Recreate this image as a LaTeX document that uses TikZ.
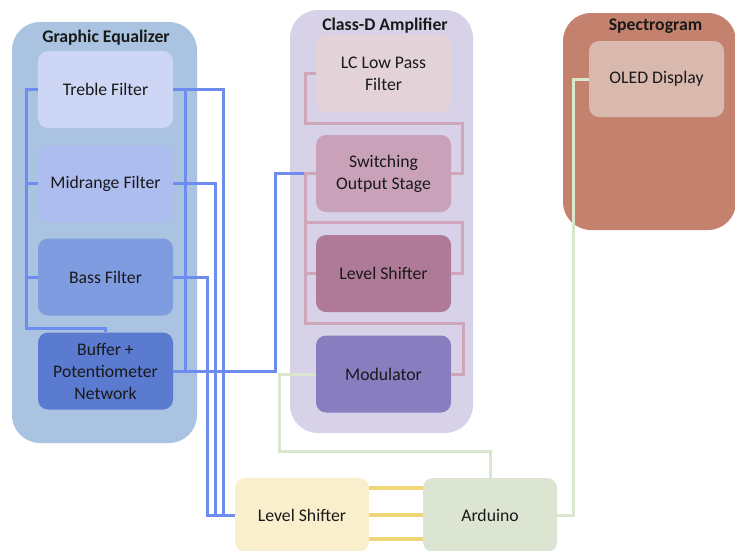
\documentclass[tikz,border=0pt]{standalone}
\usepackage{fontspec}
\setmainfont{Carlito}
\usepackage{xcolor}
\usetikzlibrary{positioning}

\definecolor{eqgroup}{HTML}{A9C3E0}
\definecolor{eqtreble}{HTML}{CDD6F4}
\definecolor{eqmid}{HTML}{ADBDF0}
\definecolor{eqbass}{HTML}{809CE1}
\definecolor{eqbuffer}{HTML}{5A7BD0}
\definecolor{ampgroup}{HTML}{D7D2E7}
\definecolor{amplc}{HTML}{E3D2D8}
\definecolor{ampswitch}{HTML}{C9A2B9}
\definecolor{ampshift}{HTML}{AF7A98}
\definecolor{ampmod}{HTML}{877DBF}
\definecolor{specgroup}{HTML}{C4826E}
\definecolor{specoled}{HTML}{D9B8AD}
\definecolor{shiftfill}{HTML}{FAEFCC}
\definecolor{ardfill}{HTML}{DCE5D2}
\definecolor{buswire}{HTML}{6C8DEF}
\definecolor{ampwire}{HTML}{CFA5BA}
\definecolor{ctrlwire}{HTML}{DAE6CE}
\definecolor{linkwire}{HTML}{F0D67A}

\begin{document}
\begin{tikzpicture}[x=1pt,y=-1pt]
      \tikzstyle{every node}=[font=\fontsize{17.7}{22}\selectfont, text=black!90]
      \tikzstyle{group}=[rounded corners=28pt, inner sep=0pt]
      \tikzstyle{block}=[rounded corners=10pt, minimum width=135pt, minimum height=77pt, align=center, inner sep=0pt]
      \tikzstyle{heading}=[font=\fontsize{17.7}{22}\selectfont\bfseries]
      \tikzstyle{bus}=[line width=3pt, draw=buswire]
      \tikzstyle{chain}=[line width=3pt, draw=ampwire]
      \tikzstyle{ctrl}=[line width=3pt, draw=ctrlwire]
      \tikzstyle{link}=[line width=4pt, draw=linkwire]

      \useasboundingbox (0,0) rectangle (735,550);

      % groups
      \node[group, fill=eqgroup, minimum width=185pt, minimum height=421pt] (EQ) at (104.5,232.5) {};
      \node[group, fill=ampgroup, minimum width=183pt, minimum height=423pt] (Amp) at (381.5,221.5) {};
      \node[group, fill=specgroup, minimum width=173pt, minimum height=217pt] (Spec) at (649.5,121.5) {};
      \node[heading] (EQtitle) at (106,38) {Graphic Equalizer};
      \node[heading] (Amptitle) at (385,26) {Class-D Amplifier};
      \node[heading] (Spectitle) at (655.5,26) {Spectrogram};

      % graphic equalizer
      \node[block, fill=eqtreble] (Treble) at (105.5,89.5) {Treble Filter};
      \node[block, fill=eqmid] (Mid) at (105.5,183.5) {Midrange Filter};
      \node[block, fill=eqbass] (Bass) at (105.5,277) {Bass Filter};
      \node[block, fill=eqbuffer] (Buffer) at (105.5,371) {Buffer +\\Potentiometer\\Network};

      % class-d amplifier
      \node[block, fill=amplc] (LC) at (383.5,73.5) {LC Low Pass\\Filter};
      \node[block, fill=ampswitch] (Switch) at (383.5,173.5) {Switching\\Output Stage};
      \node[block, fill=ampshift] (AmpShift) at (383.5,273.5) {Level Shifter};
      \node[block, fill=ampmod] (Mod) at (383.5,374) {Modulator};

      % spectrogram
      \node[block, fill=specoled, minimum height=76pt] (OLED) at (656.5,79) {OLED Display};

      % bottom row
      \node[block, fill=shiftfill, minimum width=134pt, minimum height=74pt] (Shift) at (302,515) {Level Shifter};
      \node[block, fill=ardfill, minimum width=134pt, minimum height=74pt] (Arduino) at (490,515) {Arduino};

      % equalizer wiring
      \draw[bus] (Treble.west) -| (26,328) -| (Buffer.north);
      \draw[bus] (Mid.west) -- (Mid.west -| 26,0);
      \draw[bus] (Bass.west) -- (Bass.west -| 26,0);
      \draw[bus] (Treble.east) -| (Shift.west -| 223,0) -- (Shift.west);
      \draw[bus] (Mid.east) -| (Shift.west -| 215,0) -- (Shift.west);
      \draw[bus] (Bass.east) -| (Shift.west -| 207,0) -- (Shift.west);
      \draw[bus] (Treble.east -| 185,0) -- (Buffer.east -| 185,0);
      \draw[bus] (Buffer.east) -| (Switch.west -| 275,0) -- (Switch.west);

      % amplifier wiring
      \draw[chain] (Switch.east) -- ++(11,0) |- (305,123) |- (LC.west);
      \draw[chain] (Mod.east) -- ++(12,0) |- (305,323) |- (Switch.west);
      \draw[chain] (AmpShift.west) -- (AmpShift.west -| 305,0);
      \draw[chain] (AmpShift.east) -- ++(11,0) |- (305,222);

      % control wiring
      \draw[ctrl] (Mod.west) -| (279,451) -| (Arduino.north);
      \draw[ctrl] (Arduino.east) -| (OLED.west -| 573,0) -- (OLED.west);
      \foreach \yy in {488,515,539}
        \draw[link] (Shift.east |- 0,\yy) -- (Arduino.west |- 0,\yy);
\end{tikzpicture}
\end{document}
